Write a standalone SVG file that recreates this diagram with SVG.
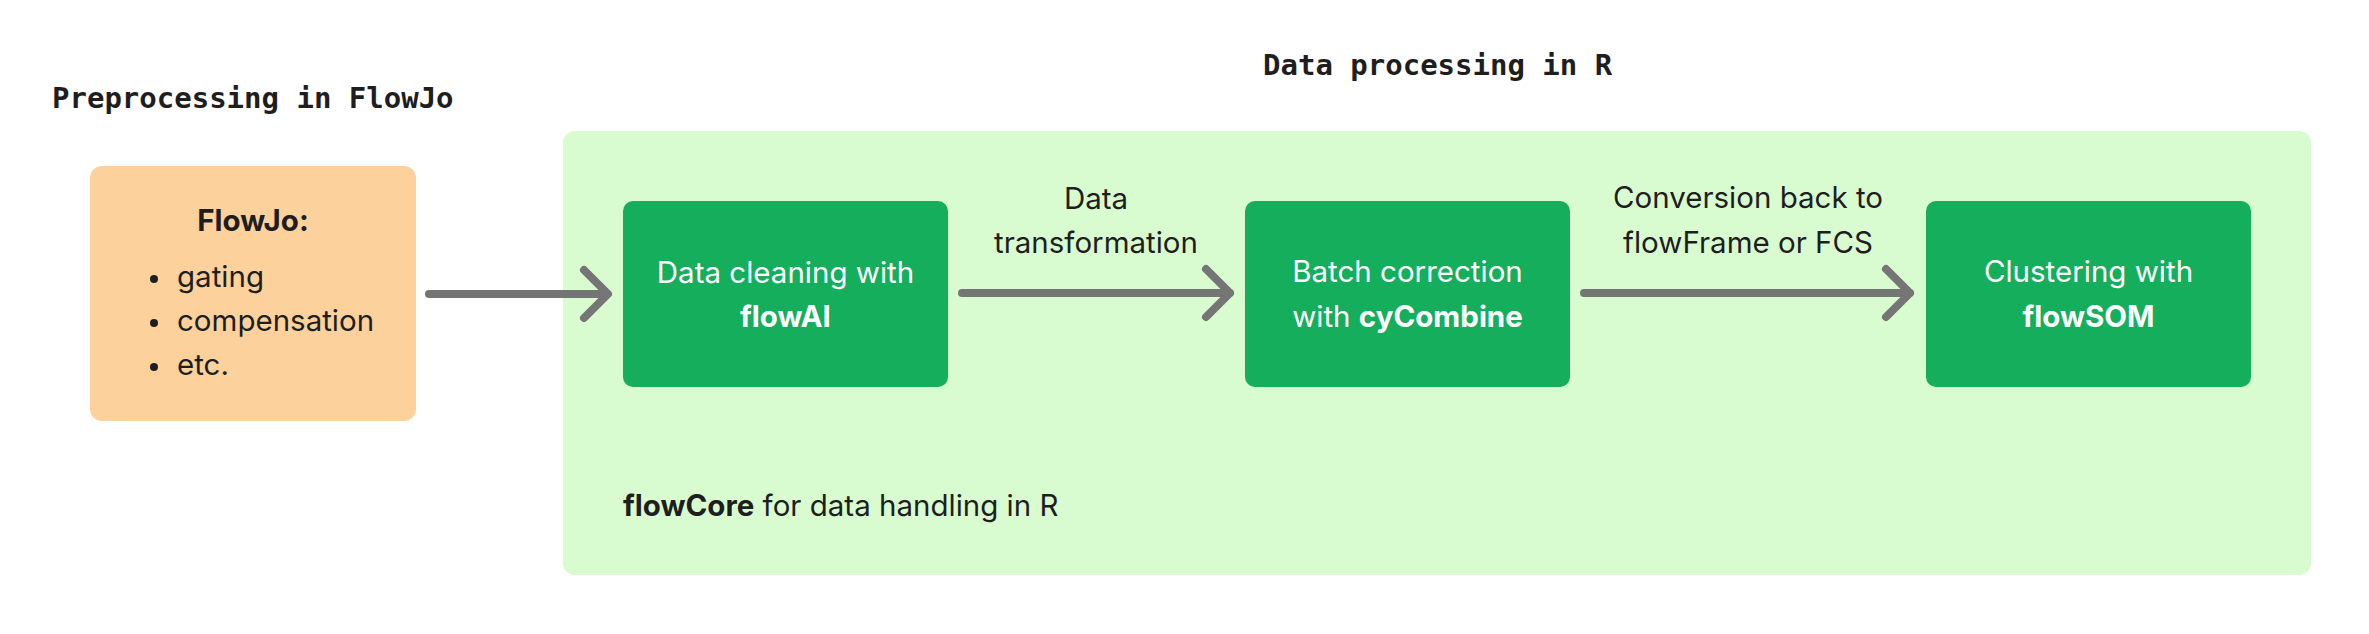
<svg xmlns="http://www.w3.org/2000/svg" width="2369" height="634" viewBox="0 0 2369 634">
<style>
.mono{font-family:"DejaVu Sans Mono","Liberation Mono",monospace;font-weight:bold;font-size:29px;fill:#1e1e1e}
.t{font-family:Inter,"Noto Sans",sans-serif;font-size:29.5px;fill:#1e1e1e}
.w{font-family:Inter,"Noto Sans",sans-serif;font-size:29.5px;fill:#ffffff;text-anchor:middle}
.b{font-weight:bold}
.step{fill:#14ae5c}
.conn{stroke:#757575;stroke-width:8;stroke-linecap:round;stroke-linejoin:round;fill:none}
</style>
<rect width="2369" height="634" fill="#ffffff"/>
<g id="title-preprocessing"><text class="mono" x="52" y="108">Preprocessing in FlowJo</text></g>
<g id="title-r"><text class="mono" x="1263" y="75">Data processing in R</text></g>
<g id="container-r">
<rect x="563" y="131" width="1748" height="444" rx="12" fill="#d9fbd0"/>
<text class="t" x="623" y="516"><tspan class="b">flowCore</tspan> for data handling in R</text>
</g>
<g id="flowjo">
<rect x="90" y="166" width="326" height="255" rx="12" fill="#fcd19c"/>
<text class="t b" x="253" y="231" text-anchor="middle">FlowJo:</text>
<circle cx="154" cy="279" r="4" fill="#1e1e1e"/>
<circle cx="154" cy="323" r="4" fill="#1e1e1e"/>
<circle cx="154" cy="367" r="4" fill="#1e1e1e"/>
<text class="t" x="177" y="287">gating</text>
<text class="t" x="177" y="331">compensation</text>
<text class="t" x="177" y="375">etc.</text>
</g>
<g id="flowai">
<rect class="step" x="623" y="201" width="325" height="186" rx="10"/>
<text class="w" x="785.5" y="283">Data cleaning with</text>
<text class="w b" x="785.5" y="327">flowAI</text>
</g>
<g id="cycombine">
<rect class="step" x="1245" y="201" width="325" height="186" rx="10"/>
<text class="w" x="1407.5" y="282">Batch correction</text>
<text class="w" x="1407.5" y="327">with <tspan class="b">cyCombine</tspan></text>
</g>
<g id="flowsom">
<rect class="step" x="1926" y="201" width="325" height="186" rx="10"/>
<text class="w" x="2088.5" y="282">Clustering with</text>
<text class="w b" x="2088.5" y="327">flowSOM</text>
</g>
<g id="connectors">
<path class="conn" d="M429 294H607M584 270L608 294L584 318"/>
<path class="conn" d="M962 293H1230M1206 269L1230 293L1206 317"/>
<text class="t" x="1096" y="209" text-anchor="middle">Data</text>
<text class="t" x="1096" y="253" text-anchor="middle">transformation</text>
<path class="conn" d="M1584 293H1910M1886 269L1910 293L1886 317"/>
<text class="t" x="1748" y="208" text-anchor="middle">Conversion back to</text>
<text class="t" x="1748" y="253" text-anchor="middle">flowFrame or FCS</text>
</g>
</svg>
